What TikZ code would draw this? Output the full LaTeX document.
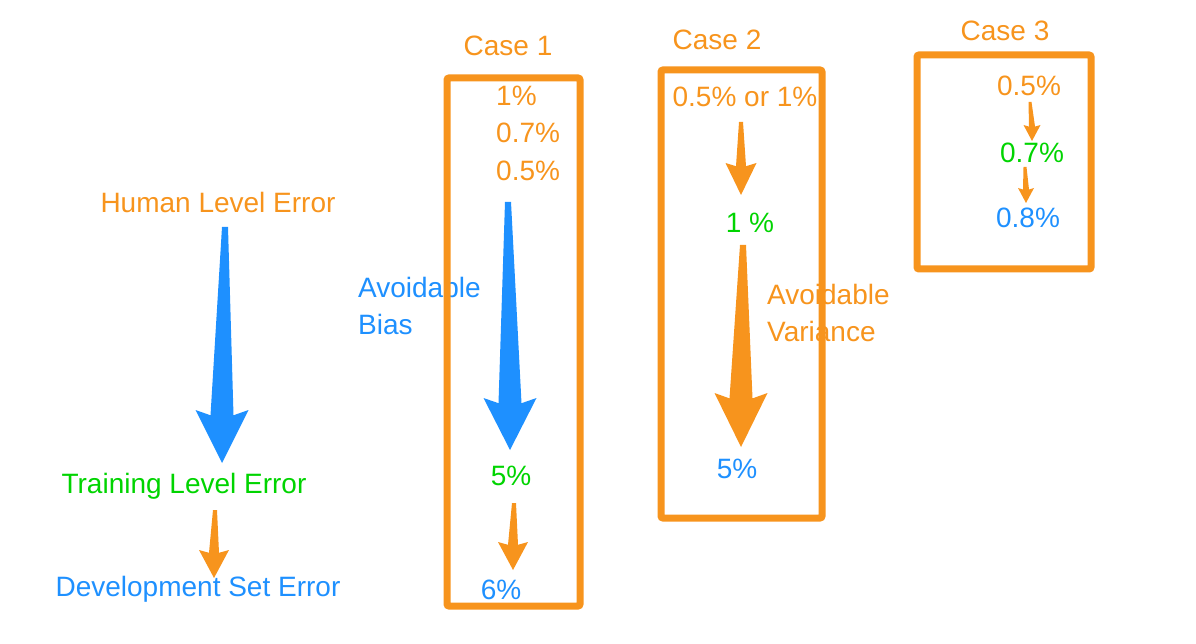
\documentclass[tikz,border=0pt]{standalone}
\usepackage{fontspec}
\setmainfont{Liberation Sans}
\usetikzlibrary{calc}
\definecolor{kOrange}{HTML}{F7941D}
\definecolor{kGreen}{HTML}{00D400}
\definecolor{kBlue}{HTML}{1E90FF}
% tapered arrow: colour, from, to, tail width, neck width, head width, head length
\newcommand{\taperarrow}[7]{%
\fill[#1] let \p1=(#2),\p2=(#3) in
  ({\x1-#4pt/2},\y1) -- ({\x1+#4pt/2},\y1) -- ({\x2+#5pt/2},{\y2+0.9*#7pt})
  -- ({\x2+#6pt/2},{\y2+#7pt}) -- (\x2,\y2) -- ({\x2-#6pt/2},{\y2+#7pt})
  -- ({\x2-#5pt/2},{\y2+0.9*#7pt}) -- cycle;}

\begin{document}
\begin{tikzpicture}[x=1pt,y=-1pt,
  lbl/.style={inner sep=0pt,font=\fontsize{28}{37}\selectfont},
  casebox/.style={draw=kOrange,line width=7pt,rounded corners=2pt}]
\useasboundingbox (0,0) rectangle (1196,644);
% left column
\node[lbl,kOrange,anchor=base] (human) at (218,213) {Human Level Error};
\node[lbl,kGreen,anchor=base] (train) at (184,493) {Training Level Error};
\node[lbl,kBlue,anchor=base] (dev) at (198,596) {Development Set Error};
\coordinate (human-out) at (225,227);
\coordinate (train-in) at (222,463);
\coordinate (train-out) at (215,510);
\coordinate (dev-in) at (214,578);
\taperarrow{kBlue}{human-out}{train-in}{6}{23}{53}{53}
\taperarrow{kOrange}{train-out}{dev-in}{4}{10}{30}{28}
\node[lbl,kBlue,anchor=north west,align=left] (bias) at (358,277) {Avoidable\\Bias};
% case 1
\draw[casebox] (447,78) rectangle (580,606);
\node[lbl,kOrange,anchor=base] (c1) at (508,56) {Case 1};
\node[lbl,kOrange,anchor=base west] (c1a) at (496,106) {1\%};
\node[lbl,kOrange,anchor=base west] (c1b) at (496,143) {0.7\%};
\node[lbl,kOrange,anchor=base west] (c1c) at (496,181) {0.5\%};
\node[lbl,kGreen,anchor=base] (c1train) at (511,485) {5\%};
\node[lbl,kBlue,anchor=base] (c1dev) at (501,599) {6\%};
\coordinate (c1c-out) at (508,202);
\coordinate (c1train-in) at (510,450);
\coordinate (c1train-out) at (514,503);
\coordinate (c1dev-in) at (513,570);
\taperarrow{kBlue}{c1c-out}{c1train-in}{6}{23}{53}{52}
\taperarrow{kOrange}{c1train-out}{c1dev-in}{4}{10}{30}{28}
% case 2
\draw[casebox] (661,70) rectangle (822,518);
\node[lbl,kOrange,anchor=base] (c2) at (717,50) {Case 2};
\node[lbl,kOrange,anchor=base] (c2human) at (745,107) {0.5\% or 1\%};
\node[lbl,kGreen,anchor=base] (c2train) at (750,233) {1 \%};
\node[lbl,kBlue,anchor=base] (c2dev) at (737,478) {5\%};
\coordinate (c2human-out) at (741,122);
\coordinate (c2train-in) at (741,195);
\coordinate (c2train-out) at (743,245);
\coordinate (c2dev-in) at (741,447);
\taperarrow{kOrange}{c2human-out}{c2train-in}{4}{10}{31}{32}
\taperarrow{kOrange}{c2train-out}{c2dev-in}{6}{23}{53}{54}
\node[lbl,kOrange,anchor=north west,align=left] (variance) at (767,284) {Avoidable\\Variance};
% case 3
\draw[casebox] (917,55) rectangle (1091,269);
\node[lbl,kOrange,anchor=base] (c3) at (1005,41) {Case 3};
\node[lbl,kOrange,anchor=base] (c3human) at (1029,96) {0.5\%};
\node[lbl,kGreen,anchor=base] (c3train) at (1032,163) {0.7\%};
\node[lbl,kBlue,anchor=base] (c3dev) at (1028,228) {0.8\%};
\coordinate (c3human-out) at (1030,102);
\coordinate (c3train-in) at (1032,141);
\coordinate (c3train-out) at (1025,167);
\coordinate (c3dev-in) at (1026,203);
\taperarrow{kOrange}{c3human-out}{c3train-in}{3}{6}{17}{16}
\taperarrow{kOrange}{c3train-out}{c3dev-in}{3}{6}{16}{15}
\end{tikzpicture}
\end{document}
